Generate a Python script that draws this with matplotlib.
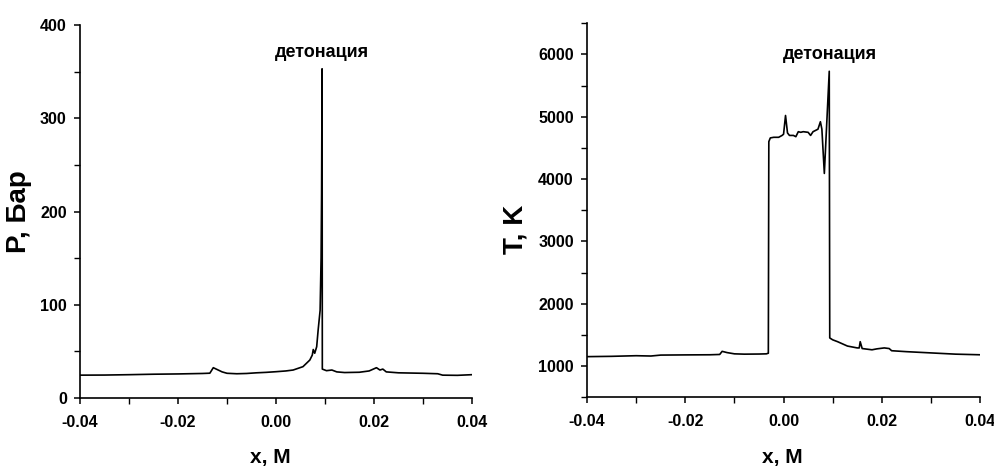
import numpy as np
import matplotlib
matplotlib.use("Agg")
import matplotlib.pyplot as plt
from matplotlib.ticker import MultipleLocator, FormatStrFormatter

plt.rcParams['font.family'] = ['Liberation Sans', 'DejaVu Sans']

# pressure profile
x_p = [-0.040, -0.035, -0.030, -0.025, -0.020, -0.015, -0.0135, -0.0128, -0.0120,
       -0.0110, -0.0100, -0.0080, -0.0060, -0.0040, -0.0020, 0.0000, 0.0020, 0.0035,
       0.0055, 0.0069, 0.0074, 0.0076, 0.0079, 0.0083, 0.0086, 0.0090, 0.0092, 0.0093,
       0.0094, 0.00945, 0.0103, 0.0114, 0.0124, 0.0140, 0.0170, 0.0190, 0.0205, 0.0212,
       0.0218, 0.0225, 0.0250, 0.0300, 0.0330, 0.0340, 0.0370, 0.0400]
p_bar = [24.5, 24.6, 25.0, 25.5, 25.8, 26.3, 26.6, 32.5, 30.5,
         28.0, 26.5, 26.0, 26.3, 27.0, 27.5, 28.2, 29.0, 30.0,
         33.6, 40.7, 46.0, 52.0, 48.0, 55.0, 73.0, 94.0, 150.0, 220.0,
         353.0, 31.0, 29.3, 30.0, 28.0, 27.3, 27.6, 29.0, 32.5, 30.0,
         31.0, 28.0, 27.0, 26.5, 26.0, 24.5, 24.3, 25.0]

# temperature profile
x_t = [-0.040, -0.035, -0.030, -0.027, -0.025, -0.020, -0.015, -0.013, -0.0125,
       -0.0115, -0.0100, -0.0080, -0.0050, -0.0035, -0.0031, -0.0030, -0.0027, -0.0020,
       -0.0010, -0.0003, 0.0000, 0.0004, 0.0008, 0.0012, 0.0020, 0.0025, 0.0030,
       0.0035, 0.0040, 0.0050, 0.0055, 0.0060, 0.0065, 0.0070, 0.0075, 0.0078,
       0.0083, 0.0093, 0.0094, 0.0100, 0.0110, 0.0130, 0.0150, 0.0154, 0.0156,
       0.0160, 0.0180, 0.0190, 0.0205, 0.0215, 0.0220, 0.0250, 0.0300, 0.0350, 0.0400]
t_k = [1150, 1155, 1165, 1160, 1175, 1178, 1180, 1185, 1235,
       1215, 1195, 1190, 1192, 1195, 1205, 4600, 4660, 4670,
       4670, 4700, 4720, 5020, 4740, 4700, 4700, 4680, 4760,
       4750, 4760, 4750, 4700, 4760, 4780, 4800, 4920, 4800,
       4090, 5730, 1450, 1420, 1390, 1320, 1290, 1290, 1390,
       1280, 1260, 1275, 1290, 1280, 1245, 1230, 1210, 1190, 1180]

x_ticks = [-0.04, -0.02, 0.00, 0.02, 0.04]
label_text = 'детонация'

fig = plt.figure(figsize=(9.95, 4.7), dpi=100)
ax1 = fig.add_axes([0.0804, 0.1532, 0.394, 0.7936])
ax2 = fig.add_axes([0.590, 0.155, 0.395, 0.7955])


def style_axis(ax):
    for s in ['top', 'right']:
        ax.spines[s].set_visible(False)
    for s in ['left', 'bottom']:
        ax.spines[s].set_linewidth(1.2)
    ax.set_xlim(-0.04, 0.04)
    ax.set_xticks(x_ticks)
    ax.xaxis.set_minor_locator(MultipleLocator(0.01))
    ax.xaxis.set_major_formatter(FormatStrFormatter('%.2f'))
    ax.tick_params(which='major', direction='out', length=4.5, width=1.1,
                   labelsize=11.5, pad=5)
    ax.tick_params(axis='x', which='major', pad=7.5)
    ax.tick_params(which='minor', direction='out', length=4, width=1.0)
    for lab in ax.get_xticklabels() + ax.get_yticklabels():
        lab.set_fontweight('bold')


ax1.plot(x_p, p_bar, color='black', lw=1.2)
ax1.set_ylim(0, 400)
ax1.yaxis.set_major_locator(MultipleLocator(100))
ax1.yaxis.set_minor_locator(MultipleLocator(50))
style_axis(ax1)
ax1.set_ylabel('P, Бар', fontsize=20, fontweight='bold')
ax1.yaxis.set_label_coords(-0.122, 0.50)
ax1.set_xlabel('x, M', fontsize=15, fontweight='bold')
ax1.xaxis.set_label_coords(0.485, -0.134)
ax1.text(0.0094, 371, label_text, ha='center', va='center', fontsize=13,
         fontweight='bold')

ax2.plot(x_t, t_k, color='black', lw=1.2)
ax2.set_ylim(500, 6500)
ax2.set_yticks([1000, 2000, 3000, 4000, 5000, 6000])
ax2.yaxis.set_minor_locator(MultipleLocator(500))
style_axis(ax2)
ax2.set_ylabel('T, K', fontsize=20, fontweight='bold')
ax2.yaxis.set_label_coords(-0.150, 0.45)
ax2.set_xlabel('x, M', fontsize=15, fontweight='bold')
ax2.xaxis.set_label_coords(0.496, -0.136)
ax2.text(0.0095, 6000, label_text, ha='center', va='center', fontsize=13,
         fontweight='bold')

fig.savefig('out.png', dpi=100)
